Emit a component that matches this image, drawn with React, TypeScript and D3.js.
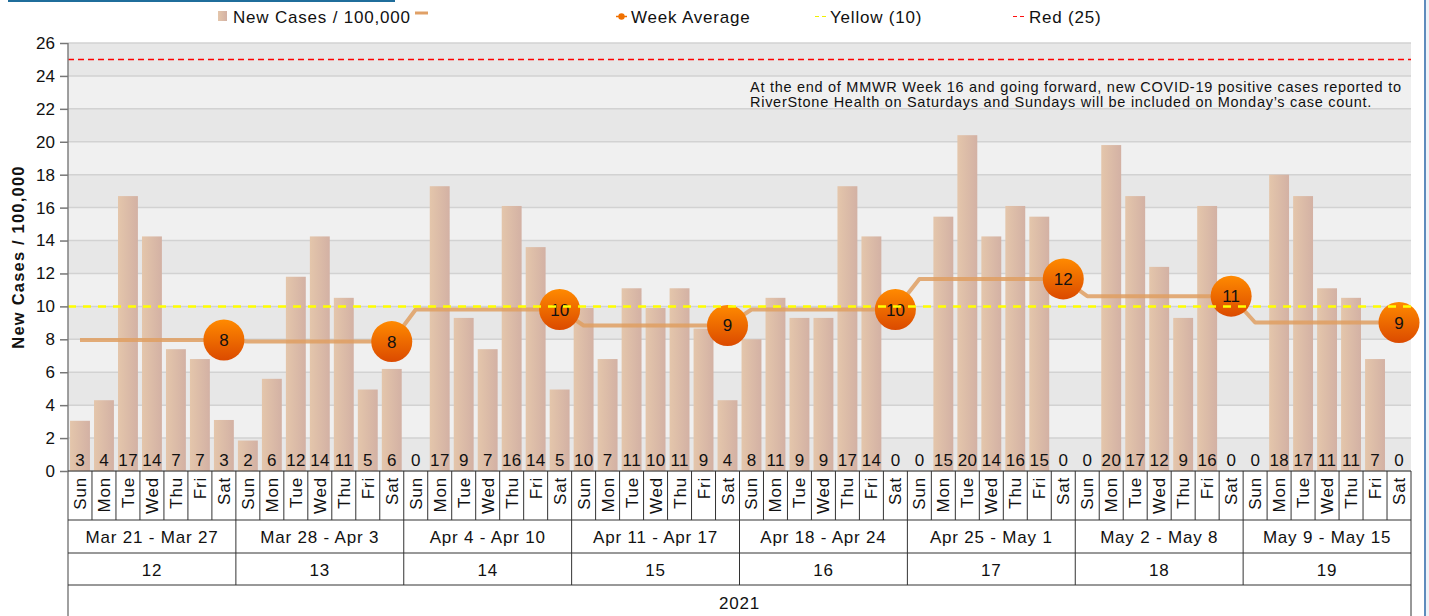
import React, { useEffect, useRef } from 'react'
import * as d3 from 'd3'

const dayNames = ['Sun', 'Mon', 'Tue', 'Wed', 'Thu', 'Fri', 'Sat']
const weekRanges = ['Mar 21 - Mar 27', 'Mar 28 - Apr 3', 'Apr 4 - Apr 10', 'Apr 11 - Apr 17',
    'Apr 18 - Apr 24', 'Apr 25 - May 1', 'May 2 - May 8', 'May 9 - May 15']
const weekNumbers = ['12', '13', '14', '15', '16', '17', '18', '19']
const year = '2021'

// new cases per 100,000, one row per week (Sun..Sat)
const cases = [
    3.05, 4.3, 16.7, 14.25, 7.4, 6.8, 3.1,
    1.85, 5.6, 11.8, 14.25, 10.52, 4.95, 6.2,
    0, 17.3, 9.3, 7.4, 16.1, 13.6, 4.95,
    9.9, 6.8, 11.1, 9.9, 11.1, 8.65, 4.3,
    8.0, 10.52, 9.3, 9.3, 17.3, 14.25, 0,
    0, 15.45, 20.4, 14.25, 16.1, 15.45, 0,
    0, 19.8, 16.7, 12.4, 9.3, 16.1, 0,
    0, 18.0, 16.7, 11.1, 10.52, 6.8, 0,
]
const weekAverages = [7.96, 7.86, 9.81, 8.84, 9.81, 11.67, 10.62, 9.02]
const yellowLevel = 10
const redLevel = 25
const yTicks = [0, 2, 4, 6, 8, 10, 12, 14, 16, 18, 20, 22, 24, 26]

const note = [
    'At the end of MMWR Week 16 and going forward, new COVID-19 positive cases reported to',
    'RiverStone Health on Saturdays and Sundays will be included on Monday\u2019s case count.',
]

const W = 1429
const H = 616
const left = 68
const right = 1411
const top = 43
const base = 471
const font = '"Liberation Sans", Arial, sans-serif'
// the original was rendered with hinted (wider) glyph advances
const spread = 0.8

const App = () => {
    const axisRef = useRef<SVGGElement>(null)

    const x = d3.scaleBand<number>()
        .domain(d3.range(cases.length))
        .range([left, right])
        .paddingInner(0.17)
        .paddingOuter(0.085)
    const y = d3.scaleLinear().domain([0, 26]).range([base, top])
    const step = x.step()
    const cx = (i: number) => x(i)! + x.bandwidth() / 2
    const dayEdge = (i: number) => left + step * i
    const redY = Math.floor(y(redLevel)) + 0.5

    useEffect(() => {
        const g = d3.select(axisRef.current!)
        g.call(d3.axisLeft(y).tickValues(yTicks).tickSize(8).tickPadding(5).tickFormat(d3.format('d')))
        g.select('.domain').remove()
        g.selectAll('.tick line').attr('stroke', '#777').attr('stroke-width', 1.5)
        g.selectAll('.tick text')
            .attr('font-family', font)
            .attr('font-size', 17)
            .attr('fill', '#111')
    }, [])

    const avgLine = d3.line<number>()
        .x(i => cx(i))
        .y(i => y(weekAverages[Math.floor(i / 7)]))
    const bands = yTicks.slice(0, -1)

    return (
        <svg width={W} height={H} style={{ position: 'absolute', left: 0, top: 0, display: 'block' }}
            fontFamily={font}>
            <defs>
                <linearGradient id="barGrad" x1="0" x2="1" y1="0" y2="0">
                    <stop offset="0" stopColor="#e4c6ab" />
                    <stop offset="1" stopColor="#d3b1a4" />
                </linearGradient>
                <linearGradient id="dotGrad" x1="0" x2="0" y1="0" y2="1">
                    <stop offset="0" stopColor="#ff8a00" />
                    <stop offset="1" stopColor="#db4a00" />
                </linearGradient>
            </defs>
            <rect width={W} height={H} fill="#fff" />
            <rect x={8} y={0} width={387} height={2} fill="#1f6d9b" />
            <rect x={1424} y={0} width={2} height={H} fill="#5e8cbd" />
            <rect x={1426} y={0} width={3} height={H} fill="#eef2f7" />

            {/* legend */}
            <g fontSize={17} fill="#111" letterSpacing={spread}>
                <rect x={218} y={11} width={9} height={10} fill="url(#barGrad)" />
                <text x={233} y={23}>New Cases / 100,000</text>
                <line x1={415} x2={428} y1={13} y2={13} stroke="#e0a066" strokeWidth={3} />
                <line x1={616} x2={627} y1={16.5} y2={16.5} stroke="#f07000" strokeWidth={1.5} />
                <circle cx={621.5} cy={16.5} r={3.2} fill="#f07000" />
                <text x={631} y={23}>Week Average</text>
                <line x1={815} x2={827} y1={16.5} y2={16.5} stroke="#f0f000" strokeWidth={1.2} strokeDasharray="4,3" />
                <text x={830} y={23}>Yellow (10)</text>
                <line x1={1013} x2={1024} y1={16.5} y2={16.5} stroke="#ff1010" strokeWidth={1.2} strokeDasharray="4,3" />
                <text x={1029} y={23}>Red (25)</text>
            </g>

            {/* plot background bands and grid */}
            {bands.map((v, k) => (
                <rect key={'b' + v} x={left} y={y(v + 2)} width={right - left} height={y(v) - y(v + 2)}
                    fill={k % 2 === 0 ? '#e7e7e7' : '#f0f0f0'} />
            ))}
            {yTicks.map(v => (
                <line key={'g' + v} x1={left} x2={right} y1={y(v)} y2={y(v)} stroke="#d2d2d2" strokeWidth={1.5} />
            ))}

            <line x1={left} x2={right} y1={redY} y2={redY} stroke="#ff0000" strokeWidth={1.3} strokeDasharray="6,4" />

            <g fontSize={14.5} fill="#111" letterSpacing={0.72}>
                {note.map((t, k) => <text key={k} x={750} y={92 + k * 15}>{t}</text>)}
            </g>

            {/* bars */}
            {cases.map((v, i) => (
                <rect key={'r' + i} x={x(i)} y={y(v)} width={x.bandwidth()} height={base - y(v)} fill="url(#barGrad)" />
            ))}
            <g fontSize={17} fill="#111" textAnchor="middle" letterSpacing={0.4}>
                {cases.map((v, i) => <text key={'v' + i} x={cx(i) + 0.2} y={466}>{Math.round(v)}</text>)}
            </g>

            {/* week average */}
            <path d={avgLine(d3.range(cases.length))!} fill="none" stroke="#df9f62" strokeOpacity={0.85} strokeWidth={4}
                strokeLinejoin="round" />
            {weekAverages.map((a, w) => (
                <g key={'m' + w} transform={`translate(${cx(w * 7 + 6)},${y(a)})`}>
                    <circle r={20.5} fill="url(#dotGrad)" />
                    <text y={6} textAnchor="middle" fontSize={17} fill="#111">{Math.round(a)}</text>
                </g>
            ))}

            <line x1={left} x2={right} y1={y(yellowLevel)} y2={y(yellowLevel)} stroke="#ffff00" strokeWidth={2.5} strokeDasharray="8,7" />

            {/* y axis */}
            <line x1={left} x2={left} y1={top} y2={H} stroke="#808080" strokeWidth={1.5} />
            <g ref={axisRef} transform={`translate(${left},0)`} />
            <text transform={`translate(24,257) rotate(-90)`} textAnchor="middle" fontSize={16.5} fontWeight="bold"
                fill="#111" letterSpacing={1.2}>
                New Cases / 100,000
            </text>

            {/* category table */}
            <g stroke="#333" strokeWidth={1}>
                <line x1={left} x2={right} y1={base} y2={base} />
                <line x1={left} x2={right} y1={520} y2={520} />
                <line x1={left} x2={right} y1={553} y2={553} />
                <line x1={left} x2={right} y1={585} y2={585} />
                <line x1={right} x2={right} y1={base} y2={H} />
                {d3.range(1, cases.length).map(i => (
                    <line key={'d' + i} x1={dayEdge(i)} x2={dayEdge(i)} y1={base} y2={i % 7 === 0 ? 585 : 520} />
                ))}
            </g>
            <g fontSize={17} fill="#111" letterSpacing={spread}>
                {cases.map((_, i) => (
                    <text key={'n' + i} transform={`translate(${cx(i) + 6},477) rotate(-90)`} textAnchor="end">
                        {dayNames[i % 7]}
                    </text>
                ))}
                {weekRanges.map((t, w) => (
                    <text key={'w' + w} x={dayEdge(w * 7 + 3.5)} y={543} textAnchor="middle">{t}</text>
                ))}
                {weekNumbers.map((t, w) => (
                    <text key={'k' + w} x={dayEdge(w * 7 + 3.5)} y={576} textAnchor="middle">{t}</text>
                ))}
                <text x={(left + right) / 2} y={609} textAnchor="middle">{year}</text>
            </g>
        </svg>
    )
}

export default App
